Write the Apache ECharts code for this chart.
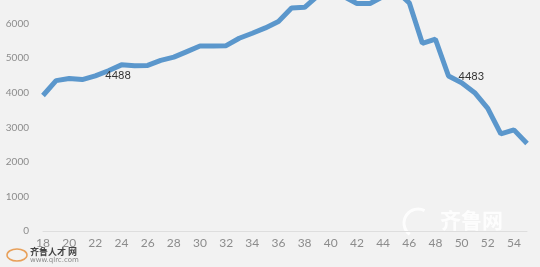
<!DOCTYPE html>
<html>
<head>
<meta charset="utf-8">
<script src="https://cdn.jsdelivr.net/npm/echarts@6/dist/echarts.min.js"></script>
<style>
html,body{margin:0;padding:0;background:#f2f2f2;overflow:hidden;width:540px;height:267px;position:relative;}
#c{position:absolute;left:0;top:-16px;width:540px;height:283px;}
</style>
</head>
<body>
<div id="c"></div>
<script>
const ages = ['18','19','20','21','22','23','24','25','26','27','28','29','30','31','32','33','34','35','36','37','38','39','40','41','42','43','44','45','46','47','48','49','50','51','52','53','54','55'];
const salary = [3920,4350,4410,4380,4488,4635,4806,4780,4790,4935,5030,5190,5350,5350,5360,5575,5720,5875,6060,6450,6470,6800,6900,6780,6580,6580,6780,6950,6600,5430,5547,4483,4290,4000,3550,2810,2925,2530];
const labeledAges = ['22','49'];
const yTicks = {min:0, max:7000, interval:1000};

const chart = echarts.init(document.getElementById('c'));
const seriesData = salary.map((v,i)=>{
  const show = labeledAges.indexOf(ages[i]) >= 0;
  return {value:v, label:{show:show}};
});
const OFF = 16;
chart.setOption({
  backgroundColor:'#f2f2f2',
  animation:false,
  grid:{left:43,right:13,top:0,bottom:36},
  xAxis:{
    type:'category',
    data:ages,
    boundaryGap:false,
    axisLine:{show:true,lineStyle:{color:'#dedede',width:1}},
    axisTick:{show:false},
    axisLabel:{interval:1,color:'#8c8c8c',fontSize:12,margin:6,fontFamily:'Lato'}
  },
  yAxis:{
    type:'value',
    min:yTicks.min,max:yTicks.max,interval:yTicks.interval,
    axisLine:{show:false},
    axisTick:{show:false},
    splitLine:{show:false},
    axisLabel:{color:'#8c8c8c',fontSize:10,margin:14,fontFamily:'Lato',formatter:v=>String(v)}
  },
  series:[{
    type:'line',
    data:seriesData,
    symbol:'circle',
    symbolSize:0,
    showSymbol:true,
    showAllSymbol:true,
    clip:false,
    lineStyle:{width:5,color:'#5b97cc'},
    itemStyle:{color:'#5b97cc'},
    label:{show:false,position:'right',distance:10,color:'#333',fontSize:11,fontFamily:'Lato'}
  }],
  graphic:[
    {type:'ellipse',shape:{cx:17,cy:255+OFF,rx:10,ry:6},style:{fill:'none',stroke:'#e8a05a',lineWidth:1.5}},
    {type:'text',left:30,top:247+OFF,style:{text:'齐鲁人才 网',fill:'#444',font:'bold 9px "Noto Sans CJK SC"'}},
    {type:'text',left:30,top:257+OFF,style:{text:'www.qlrc.com',fill:'#888',font:'7px "DejaVu Sans"'}},
    {type:'text',left:440,top:210+OFF,style:{text:'齐鲁网',fill:'rgba(255,255,255,0.85)',font:'bold 21px "Noto Sans CJK SC"'}},
    {type:'arc',shape:{cx:418,cy:223+OFF,r:14,startAngle:2.2,endAngle:5.2},style:{stroke:'rgba(255,255,255,0.85)',lineWidth:3,fill:'none'}}
  ]
});
</script>
</body>
</html>
